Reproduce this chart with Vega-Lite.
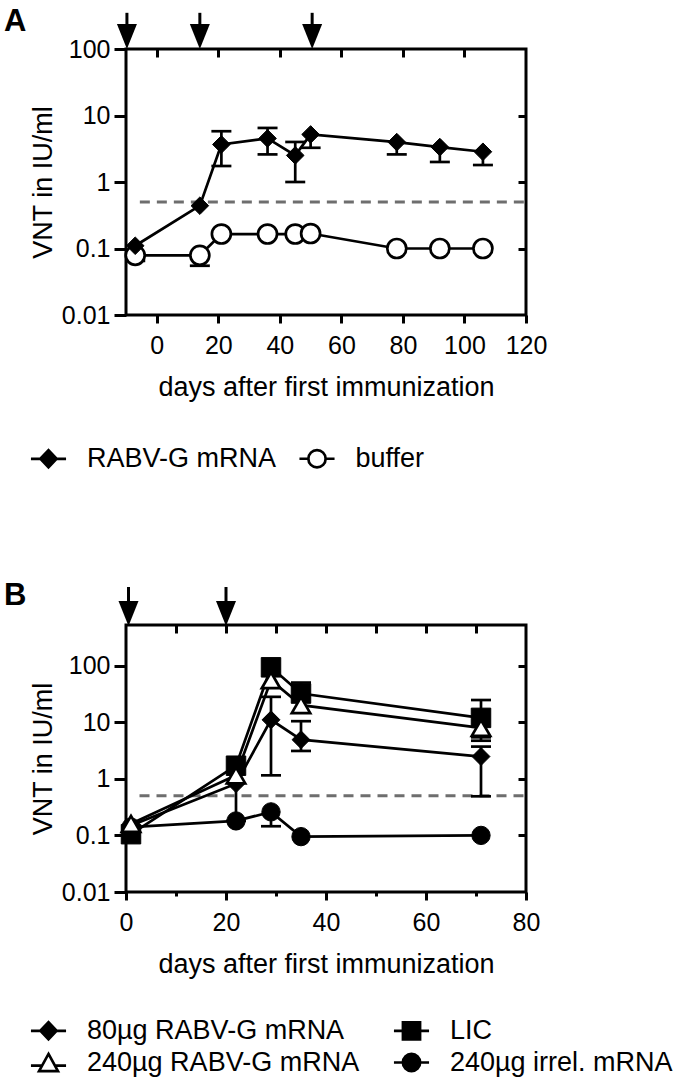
{
  "$schema": "https://vega.github.io/schema/vega-lite/v6.json",
  "background": "white",
  "padding": {"left": 2, "top": 4, "right": 2, "bottom": 2},
  "spacing": 310,
  "bounds": "flush",
  "resolve": {"scale": {"shape": "independent", "fill": "independent"}, "legend": {"shape": "independent", "fill": "independent"}},
  "config": {
    "font": "Liberation Sans",
    "view": {"stroke": "black", "strokeWidth": 3},
    "axis": {"domain": false, "grid": false, "tickColor": "black", "tickWidth": 3, "labelColor": "black", "labelFont": "Liberation Sans", "labelFontSize": 25, "titleFont": "Liberation Sans", "titleFontSize": 27, "titleFontWeight": "normal", "titleColor": "black", "labelFlush": false, "labelOverlap": false},
    "legend": {"labelFont": "Liberation Sans", "labelColor": "black", "padding": 0, "labelLimit": 0}
  },
  "datasets": {
    "A": [
      {"series": "buffer", "day": -7, "v": 0.079, "lo": 0.065, "hi": 0.079},
      {"series": "buffer", "day": 14, "v": 0.079, "lo": 0.055, "hi": 0.079},
      {"series": "buffer", "day": 21, "v": 0.165, "lo": 0.165, "hi": 0.165},
      {"series": "buffer", "day": 36, "v": 0.165, "lo": 0.165, "hi": 0.165},
      {"series": "buffer", "day": 45, "v": 0.165, "lo": 0.165, "hi": 0.165},
      {"series": "buffer", "day": 50, "v": 0.168, "lo": 0.168, "hi": 0.168},
      {"series": "buffer", "day": 78, "v": 0.1, "lo": 0.1, "hi": 0.1},
      {"series": "buffer", "day": 92, "v": 0.1, "lo": 0.1, "hi": 0.1},
      {"series": "buffer", "day": 106, "v": 0.1, "lo": 0.1, "hi": 0.1},
      {"series": "RABV-G mRNA", "day": -7, "v": 0.11, "lo": 0.11, "hi": 0.11},
      {"series": "RABV-G mRNA", "day": 14, "v": 0.44, "lo": 0.44, "hi": 0.44},
      {"series": "RABV-G mRNA", "day": 21, "v": 3.67, "lo": 1.74, "hi": 5.8},
      {"series": "RABV-G mRNA", "day": 36, "v": 4.52, "lo": 2.6, "hi": 6.5},
      {"series": "RABV-G mRNA", "day": 45, "v": 2.51, "lo": 1.0, "hi": 4.0},
      {"series": "RABV-G mRNA", "day": 50, "v": 5.19, "lo": 3.27, "hi": 5.19},
      {"series": "RABV-G mRNA", "day": 78, "v": 3.98, "lo": 2.6, "hi": 3.98},
      {"series": "RABV-G mRNA", "day": 92, "v": 3.35, "lo": 2.0, "hi": 3.35},
      {"series": "RABV-G mRNA", "day": 106, "v": 2.85, "lo": 1.8, "hi": 2.85}
    ],
    "B": [
      {"series": "240µg irrel. mRNA", "day": 1, "v": 0.14, "lo": 0.14, "hi": 0.14},
      {"series": "240µg irrel. mRNA", "day": 22, "v": 0.18, "lo": 0.18, "hi": 0.18},
      {"series": "240µg irrel. mRNA", "day": 29, "v": 0.26, "lo": 0.145, "hi": 0.26},
      {"series": "240µg irrel. mRNA", "day": 35, "v": 0.095, "lo": 0.095, "hi": 0.095},
      {"series": "240µg irrel. mRNA", "day": 71, "v": 0.1, "lo": 0.1, "hi": 0.1},
      {"series": "80µg RABV-G mRNA", "day": 1, "v": 0.15, "lo": 0.15, "hi": 0.15},
      {"series": "80µg RABV-G mRNA", "day": 22, "v": 0.82, "lo": 0.18, "hi": 0.82},
      {"series": "80µg RABV-G mRNA", "day": 29, "v": 11, "lo": 1.15, "hi": 28},
      {"series": "80µg RABV-G mRNA", "day": 35, "v": 4.9, "lo": 3.1, "hi": 10.4},
      {"series": "80µg RABV-G mRNA", "day": 71, "v": 2.47, "lo": 0.49, "hi": 3.7},
      {"series": "LIC", "day": 1, "v": 0.105, "lo": 0.105, "hi": 0.105},
      {"series": "LIC", "day": 22, "v": 1.7, "lo": 1.7, "hi": 1.7},
      {"series": "LIC", "day": 29, "v": 93, "lo": 93, "hi": 93},
      {"series": "LIC", "day": 35, "v": 32, "lo": 32, "hi": 50},
      {"series": "LIC", "day": 71, "v": 11.9, "lo": 4.7, "hi": 24.6},
      {"series": "240µg RABV-G mRNA", "day": 1, "v": 0.16, "lo": 0.16, "hi": 0.16},
      {"series": "240µg RABV-G mRNA", "day": 22, "v": 1.15, "lo": 1.15, "hi": 1.15},
      {"series": "240µg RABV-G mRNA", "day": 29, "v": 55, "lo": 55, "hi": 55},
      {"series": "240µg RABV-G mRNA", "day": 35, "v": 20, "lo": 20, "hi": 20},
      {"series": "240µg RABV-G mRNA", "day": 71, "v": 7.9, "lo": 5.4, "hi": 7.9}
    ],
    "Aarrows": [{"day": -9.7}, {"day": 14}, {"day": 50.5}],
    "Barrows": [{"day": 0.5}, {"day": 20}]
  },
  "vconcat": [
    {
      "width": 400,
      "height": 266,
      "title": {"text": "A", "anchor": "start", "frame": "group", "dx": -122, "offset": -27, "fontSize": 31, "fontWeight": "bold", "color": "black", "font": "Liberation Sans"},
      "resolve": {"axis": {"x": "independent", "y": "independent"}},
      "layer": [
        {
          "data": {"values": [{"x": -5.5, "x2": 120, "y": 0.5}]},
          "mark": {"type": "rule", "color": "#6e6e6e", "strokeWidth": 3, "strokeDash": [10, 7]},
          "encoding": {
            "x": {"field": "x", "type": "quantitative", "scale": {"domain": [-10, 120], "nice": false, "zero": false}, "axis": null},
            "x2": {"field": "x2"},
            "y": {"field": "y", "type": "quantitative", "scale": {"type": "log", "domain": [0.01, 100], "nice": false}, "axis": null}
          }
        },
        {
          "data": {"name": "A"},
          "mark": {"type": "line", "color": "black", "strokeWidth": 2.7},
          "encoding": {
            "x": {"field": "day", "type": "quantitative", "scale": {"domain": [-10, 120], "nice": false, "zero": false}, "axis": {"orient": "top", "values": [0, 20, 40, 60, 80, 100], "tickSize": -8, "labels": false, "title": null}},
            "y": {"field": "v", "type": "quantitative", "scale": {"type": "log", "domain": [0.01, 100], "nice": false}, "axis": {"orient": "right", "values": [0.1, 1, 10], "tickSize": -8, "labels": false, "title": null}},
            "detail": {"field": "series"}
          }
        },
        {
          "data": {"name": "A"},
          "mark": {"type": "rule", "color": "black", "strokeWidth": 2.7},
          "encoding": {
            "x": {"field": "day", "type": "quantitative", "scale": {"domain": [-10, 120], "nice": false, "zero": false}, "axis": null},
            "y": {"field": "lo", "type": "quantitative", "scale": {"type": "log", "domain": [0.01, 100], "nice": false}, "axis": null},
            "y2": {"field": "hi"}
          }
        },
        {
          "data": {"name": "A"},
          "transform": [{"filter": "datum.lo < datum.v"}],
          "mark": {"type": "tick", "orient": "horizontal", "size": 20, "thickness": 2.7, "color": "black", "opacity": 1},
          "encoding": {
            "x": {"field": "day", "type": "quantitative", "scale": {"domain": [-10, 120], "nice": false, "zero": false}, "axis": null},
            "y": {"field": "lo", "type": "quantitative", "scale": {"type": "log", "domain": [0.01, 100], "nice": false}, "axis": null}
          }
        },
        {
          "data": {"name": "A"},
          "transform": [{"filter": "datum.hi > datum.v"}],
          "mark": {"type": "tick", "orient": "horizontal", "size": 20, "thickness": 2.7, "color": "black", "opacity": 1},
          "encoding": {
            "x": {"field": "day", "type": "quantitative", "scale": {"domain": [-10, 120], "nice": false, "zero": false}, "axis": null},
            "y": {"field": "hi", "type": "quantitative", "scale": {"type": "log", "domain": [0.01, 100], "nice": false}, "axis": null}
          }
        },
        {
          "data": {"name": "A"},
          "transform": [{"filter": "datum.series === 'buffer'"}],
          "mark": {"type": "point", "shape": "circle", "size": 360, "filled": true, "fill": "white", "stroke": "black", "strokeWidth": 2.7, "opacity": 1},
          "encoding": {
            "x": {"field": "day", "type": "quantitative", "scale": {"domain": [-10, 120], "nice": false, "zero": false}, "axis": {"orient": "bottom", "values": [0, 20, 40, 60, 80, 100, 120], "tickSize": 8, "labelPadding": 10, "title": "days after first immunization", "titlePadding": 16}},
            "y": {"field": "v", "type": "quantitative", "scale": {"type": "log", "domain": [0.01, 100], "nice": false}, "axis": {"orient": "left", "values": [0.01, 0.1, 1, 10, 100], "format": "~g", "tickSize": 12, "labelPadding": 4, "title": "VNT in IU/ml", "titlePadding": 4}}
          }
        },
        {
          "data": {"name": "A"},
          "transform": [{"filter": "datum.series === 'RABV-G mRNA'"}],
          "mark": {"type": "point", "shape": "diamond", "size": 310, "filled": true, "fill": "black", "stroke": "black", "strokeWidth": 1, "opacity": 1},
          "encoding": {
            "x": {"field": "day", "type": "quantitative", "scale": {"domain": [-10, 120], "nice": false, "zero": false}, "axis": null},
            "y": {"field": "v", "type": "quantitative", "scale": {"type": "log", "domain": [0.01, 100], "nice": false}, "axis": null}
          }
        },
        {
          "data": {"name": "Aarrows"},
          "mark": {"type": "rule", "color": "black", "strokeWidth": 3},
          "encoding": {
            "x": {"field": "day", "type": "quantitative", "scale": {"domain": [-10, 120], "nice": false, "zero": false}, "axis": null},
            "y": {"datum": 154, "type": "quantitative", "scale": {"type": "log", "domain": [0.01, 100], "nice": false}, "axis": null},
            "y2": {"datum": 350}
          }
        },
        {
          "data": {"name": "Aarrows"},
          "mark": {"type": "point", "shape": "M-1,-1.25L1,-1.25L0,1.25Z", "size": 400, "filled": true, "fill": "black", "strokeWidth": 0, "opacity": 1},
          "encoding": {
            "x": {"field": "day", "type": "quantitative", "scale": {"domain": [-10, 120], "nice": false, "zero": false}, "axis": null},
            "y": {"datum": 154, "type": "quantitative", "scale": {"type": "log", "domain": [0.01, 100], "nice": false}, "axis": null}
          }
        },
        {
          "data": {"name": "A"},
          "transform": [{"filter": "datum.day > 9999"}],
          "mark": {"type": "point", "filled": true, "stroke": "black", "strokeWidth": 2.7, "opacity": 1},
          "encoding": {
            "shape": {"field": "series", "type": "nominal", "scale": {"domain": ["RABV-G mRNA", "buffer"], "range": ["M-1.95,0L-0.9,0M0.9,0L1.95,0M-0.9,0L0,-0.95L0.9,0L0,0.95Z", "M-1.95,0L-0.96,0M0.96,0L1.95,0M0.96,0A0.96,0.96,0,1,1,-0.96,0A0.96,0.96,0,1,1,0.96,0Z"]}, "legend": {"title": null, "orient": "none", "legendX": -91, "legendY": 396, "direction": "horizontal", "symbolSize": 324, "symbolStrokeWidth": 2.7, "labelFontSize": 27, "labelOffset": 25, "columnPadding": 16.5, "padding": 0, "symbolOpacity": 1, "labelLimit": 0}},
            "fill": {"field": "series", "type": "nominal", "scale": {"domain": ["RABV-G mRNA", "buffer"], "range": ["black", "white"]}, "legend": {"title": null, "orient": "none", "legendX": -91, "legendY": 396, "direction": "horizontal", "symbolSize": 324, "symbolStrokeWidth": 2.7, "labelFontSize": 27, "labelOffset": 25, "columnPadding": 16.5, "padding": 0, "symbolOpacity": 1, "labelLimit": 0}}
          }
        }
      ]
    },
    {
      "width": 400,
      "height": 267,
      "title": {"text": "B", "anchor": "start", "frame": "group", "dx": -122, "offset": -27, "fontSize": 31, "fontWeight": "bold", "color": "black", "font": "Liberation Sans"},
      "resolve": {"axis": {"x": "independent", "y": "independent"}},
      "layer": [
        {
          "data": {"values": [{"x": 2.7, "x2": 80, "y": 0.5}]},
          "mark": {"type": "rule", "color": "#6e6e6e", "strokeWidth": 3, "strokeDash": [10, 7]},
          "encoding": {
            "x": {"field": "x", "type": "quantitative", "scale": {"domain": [0, 80], "nice": false}, "axis": null},
            "x2": {"field": "x2"},
            "y": {"field": "y", "type": "quantitative", "scale": {"type": "log", "domain": [0.01, 520], "nice": false}, "axis": null}
          }
        },
        {
          "data": {"name": "B"},
          "mark": {"type": "line", "color": "black", "strokeWidth": 2.7},
          "encoding": {
            "x": {"field": "day", "type": "quantitative", "scale": {"domain": [0, 80], "nice": false}, "axis": {"orient": "top", "values": [10, 20, 30, 40, 50, 60, 70], "tickSize": -8, "labels": false, "title": null}},
            "y": {"field": "v", "type": "quantitative", "scale": {"type": "log", "domain": [0.01, 520], "nice": false}, "axis": {"orient": "right", "values": [0.1, 1, 10, 100], "tickSize": -8, "labels": false, "title": null}},
            "detail": {"field": "series"}
          }
        },
        {
          "data": {"name": "B"},
          "mark": {"type": "rule", "color": "black", "strokeWidth": 2.7},
          "encoding": {
            "x": {"field": "day", "type": "quantitative", "scale": {"domain": [0, 80], "nice": false}, "axis": {"orient": "bottom", "values": [10, 30, 50, 70], "tickSize": 4, "labels": false, "title": null}},
            "y": {"field": "lo", "type": "quantitative", "scale": {"type": "log", "domain": [0.01, 520], "nice": false}, "axis": null},
            "y2": {"field": "hi"}
          }
        },
        {
          "data": {"name": "B"},
          "transform": [{"filter": "datum.lo < datum.v"}],
          "mark": {"type": "tick", "orient": "horizontal", "size": 20, "thickness": 2.7, "color": "black", "opacity": 1},
          "encoding": {
            "x": {"field": "day", "type": "quantitative", "scale": {"domain": [0, 80], "nice": false}, "axis": null},
            "y": {"field": "lo", "type": "quantitative", "scale": {"type": "log", "domain": [0.01, 520], "nice": false}, "axis": null}
          }
        },
        {
          "data": {"name": "B"},
          "transform": [{"filter": "datum.hi > datum.v"}],
          "mark": {"type": "tick", "orient": "horizontal", "size": 20, "thickness": 2.7, "color": "black", "opacity": 1},
          "encoding": {
            "x": {"field": "day", "type": "quantitative", "scale": {"domain": [0, 80], "nice": false}, "axis": null},
            "y": {"field": "hi", "type": "quantitative", "scale": {"type": "log", "domain": [0.01, 520], "nice": false}, "axis": null}
          }
        },
        {
          "data": {"name": "B"},
          "transform": [{"filter": "datum.series === '240µg irrel. mRNA'"}],
          "mark": {"type": "point", "shape": "circle", "size": 336, "filled": true, "fill": "black", "stroke": "black", "strokeWidth": 1, "opacity": 1},
          "encoding": {
            "x": {"field": "day", "type": "quantitative", "scale": {"domain": [0, 80], "nice": false}, "axis": {"orient": "bottom", "values": [0, 20, 40, 60, 80], "tickSize": 8, "labelPadding": 10, "title": "days after first immunization", "titlePadding": 16}},
            "y": {"field": "v", "type": "quantitative", "scale": {"type": "log", "domain": [0.01, 520], "nice": false}, "axis": {"orient": "left", "values": [0.01, 0.1, 1, 10, 100], "format": "~g", "tickSize": 12, "labelPadding": 4, "title": "VNT in IU/ml", "titlePadding": 4}}
          }
        },
        {
          "data": {"name": "B"},
          "transform": [{"filter": "datum.series === '80µg RABV-G mRNA'"}],
          "mark": {"type": "point", "shape": "diamond", "size": 320, "filled": true, "fill": "black", "stroke": "black", "strokeWidth": 1, "opacity": 1},
          "encoding": {
            "x": {"field": "day", "type": "quantitative", "scale": {"domain": [0, 80], "nice": false}, "axis": null},
            "y": {"field": "v", "type": "quantitative", "scale": {"type": "log", "domain": [0.01, 520], "nice": false}, "axis": null}
          }
        },
        {
          "data": {"name": "B"},
          "transform": [{"filter": "datum.series === 'LIC'"}],
          "mark": {"type": "point", "shape": "square", "size": 380, "filled": true, "fill": "black", "stroke": "black", "strokeWidth": 1, "opacity": 1},
          "encoding": {
            "x": {"field": "day", "type": "quantitative", "scale": {"domain": [0, 80], "nice": false}, "axis": null},
            "y": {"field": "v", "type": "quantitative", "scale": {"type": "log", "domain": [0.01, 520], "nice": false}, "axis": null}
          }
        },
        {
          "data": {"name": "B"},
          "transform": [{"filter": "datum.series === '240µg RABV-G mRNA'"}],
          "mark": {"type": "point", "shape": "triangle-up", "size": 340, "filled": true, "fill": "white", "stroke": "black", "strokeWidth": 2.7, "opacity": 1},
          "encoding": {
            "x": {"field": "day", "type": "quantitative", "scale": {"domain": [0, 80], "nice": false}, "axis": null},
            "y": {"field": "v", "type": "quantitative", "scale": {"type": "log", "domain": [0.01, 520], "nice": false}, "axis": null}
          }
        },
        {
          "data": {"name": "Barrows"},
          "mark": {"type": "rule", "color": "black", "strokeWidth": 3},
          "encoding": {
            "x": {"field": "day", "type": "quantitative", "scale": {"domain": [0, 80], "nice": false}, "axis": null},
            "y": {"datum": 830, "type": "quantitative", "scale": {"type": "log", "domain": [0.01, 520], "nice": false}, "axis": null},
            "y2": {"datum": 2440}
          }
        },
        {
          "data": {"name": "Barrows"},
          "mark": {"type": "point", "shape": "M-1,-1.25L1,-1.25L0,1.25Z", "size": 400, "filled": true, "fill": "black", "strokeWidth": 0, "opacity": 1},
          "encoding": {
            "x": {"field": "day", "type": "quantitative", "scale": {"domain": [0, 80], "nice": false}, "axis": null},
            "y": {"datum": 830, "type": "quantitative", "scale": {"type": "log", "domain": [0.01, 520], "nice": false}, "axis": null}
          }
        },
        {
          "data": {"name": "B"},
          "transform": [{"filter": "datum.day > 9999"}],
          "mark": {"type": "point", "filled": true, "stroke": "black", "strokeWidth": 2.7, "opacity": 1},
          "encoding": {
            "shape": {"field": "series", "type": "nominal", "scale": {"domain": ["80µg RABV-G mRNA", "LIC", "240µg RABV-G mRNA", "240µg irrel. mRNA"], "range": ["M-1.95,0L-0.9,0M0.9,0L1.95,0M-0.9,0L0,-0.95L0.9,0L0,0.95Z", "M-1.95,0L-0.95,0M0.95,0L1.95,0M-0.95,-0.95L0.95,-0.95L0.95,0.95L-0.95,0.95Z", "M-1.95,0.35L-0.72,0.35M0.72,0.35L1.95,0.35M0,-0.95L1.05,0.95L-1.05,0.95Z", "M-1.95,0L-0.96,0M0.96,0L1.95,0M0.96,0A0.96,0.96,0,1,1,-0.96,0A0.96,0.96,0,1,1,0.96,0Z"]}, "legend": {"title": null, "orient": "none", "legendX": -91, "legendY": 392, "direction": "horizontal", "columns": 2, "rowPadding": 3, "symbolSize": 324, "symbolStrokeWidth": 2.7, "labelFontSize": 27, "labelOffset": 25, "columnPadding": 28, "padding": 0, "symbolOpacity": 1, "labelLimit": 0}},
            "fill": {"field": "series", "type": "nominal", "scale": {"domain": ["80µg RABV-G mRNA", "LIC", "240µg RABV-G mRNA", "240µg irrel. mRNA"], "range": ["black", "black", "white", "black"]}, "legend": {"title": null, "orient": "none", "legendX": -91, "legendY": 392, "direction": "horizontal", "columns": 2, "rowPadding": 3, "symbolSize": 324, "symbolStrokeWidth": 2.7, "labelFontSize": 27, "labelOffset": 25, "columnPadding": 28, "padding": 0, "symbolOpacity": 1, "labelLimit": 0}}
          }
        }
      ]
    }
  ]
}
